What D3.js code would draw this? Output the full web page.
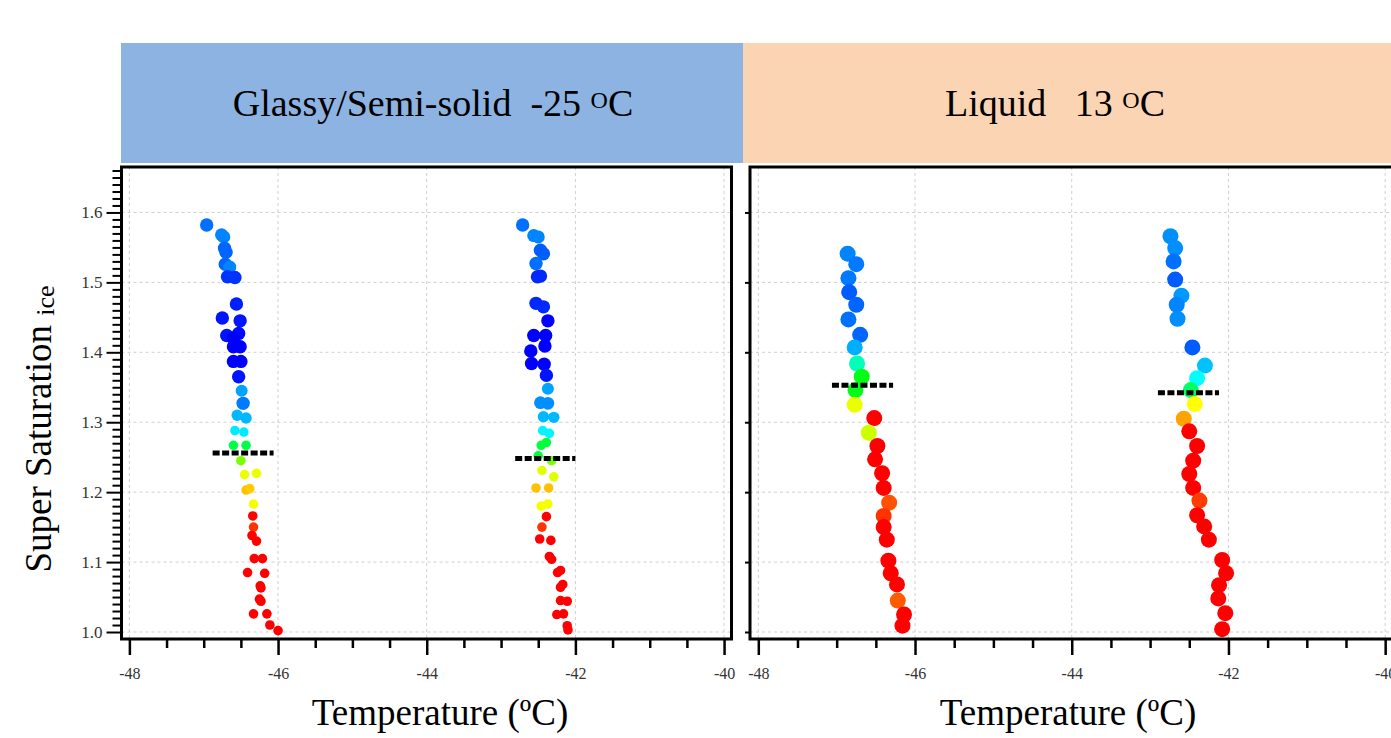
<!DOCTYPE html>
<html>
<head>
<meta charset="utf-8">
<script src="https://cdn.jsdelivr.net/npm/d3@7"></script>
<style>
  html, body { margin: 0; padding: 0; background: #fff; }
  svg { display: block; font-family: "Liberation Serif", "Times New Roman", serif; }
</style>
</head>
<body>
<svg id="chart" width="1391" height="738"></svg>
<script>
// ---- Glassy / semi-solid particles (-25 °C), run 1 ----
const glassyTemp1 = [-46.96, -46.76, -46.73, -46.72, -46.70, -46.71, -46.65, -46.68, -46.58, -46.56,
  -46.75, -46.51, -46.69, -46.53, -46.60, -46.51, -46.60, -46.60, -46.50, -46.53,
  -46.49, -46.47, -46.55, -46.43, -46.58, -46.46, -46.60, -46.43, -46.50, -46.45,
  -46.29, -46.43, -46.38, -46.33, -46.34, -46.33, -46.35, -46.29, -46.32, -46.21,
  -46.41, -46.18, -46.24, -46.23, -46.25, -46.23, -46.33, -46.15, -46.11, -46.00];
const glassySS1 = [1.582, 1.568, 1.565, 1.549, 1.543, 1.526, 1.522, 1.508, 1.507, 1.469,
  1.449, 1.445, 1.424, 1.427, 1.420, 1.408, 1.408, 1.387, 1.387, 1.365,
  1.345, 1.327, 1.310, 1.306, 1.288, 1.286, 1.267, 1.267, 1.245, 1.225,
  1.227, 1.203, 1.205, 1.183, 1.166, 1.150, 1.138, 1.130, 1.105, 1.105,
  1.085, 1.084, 1.066, 1.063, 1.047, 1.044, 1.026, 1.026, 1.010, 1.002];
const glassyFrozen1 = [0.11, 0.13, 0.13, 0.10, 0.10, 0.10, 0.13, 0.05, 0.05, 0.03,
  0.02, 0.02, 0.02, 0.01, 0.00, 0.00, 0.00, 0.00, 0.00, 0.02,
  0.16, 0.12, 0.18, 0.18, 0.23, 0.23, 0.43, 0.43, 0.62, 0.73,
  0.73, 0.81, 0.80, 0.74, 1.00, 0.95, 1.00, 1.00, 1.00, 1.00,
  1.00, 1.00, 1.00, 1.00, 1.00, 1.00, 1.00, 1.00, 1.00, 1.00];

// ---- Glassy / semi-solid particles (-25 °C), run 2 ----
const glassyTemp2 = [-42.71, -42.56, -42.50, -42.47, -42.43, -42.53, -42.47, -42.51, -42.53, -42.43,
  -42.37, -42.56, -42.40, -42.41, -42.60, -42.59, -42.42, -42.39, -42.37, -42.47,
  -42.37, -42.43, -42.29, -42.44, -42.35, -42.46, -42.39, -42.50, -42.32, -42.45,
  -42.29, -42.53, -42.36, -42.46, -42.37, -42.39, -42.45, -42.48, -42.33, -42.35,
  -42.32, -42.24, -42.20, -42.20, -42.17, -42.20, -42.11, -42.25, -42.16, -42.11, -42.10];
const glassySS2 = [1.582, 1.567, 1.565, 1.546, 1.541, 1.527, 1.509, 1.508, 1.470, 1.465,
  1.445, 1.424, 1.424, 1.409, 1.402, 1.384, 1.383, 1.367, 1.348, 1.328,
  1.327, 1.308, 1.307, 1.288, 1.284, 1.267, 1.271, 1.252, 1.245, 1.231,
  1.222, 1.206, 1.206, 1.180, 1.183, 1.165, 1.150, 1.133, 1.131, 1.108,
  1.104, 1.085, 1.088, 1.064, 1.068, 1.045, 1.044, 1.025, 1.026, 1.009, 1.003];
const glassyFrozen2 = [0.11, 0.13, 0.13, 0.09, 0.09, 0.11, 0.04, 0.04, 0.04, 0.04,
  0.00, 0.00, 0.00, 0.00, 0.00, 0.00, 0.00, 0.02, 0.16, 0.14,
  0.14, 0.18, 0.18, 0.24, 0.24, 0.44, 0.44, 0.45, 0.62, 0.72,
  0.72, 0.81, 0.81, 0.74, 0.74, 1.00, 0.95, 1.00, 1.00, 1.00,
  1.00, 1.00, 1.00, 1.00, 1.00, 1.00, 1.00, 1.00, 1.00, 1.00, 1.00];

// ---- Liquid particles (13 °C), run 1 ----
const liquidTemp1 = [-46.86, -46.75, -46.85, -46.84, -46.75, -46.85, -46.70, -46.77, -46.74, -46.68,
  -46.76, -46.77, -46.52, -46.59, -46.48, -46.51, -46.42, -46.40, -46.33, -46.40,
  -46.40, -46.36, -46.34, -46.31, -46.23, -46.22, -46.14, -46.16];
const liquidSS1 = [1.541, 1.526, 1.506, 1.486, 1.468, 1.447, 1.425, 1.407, 1.384, 1.365,
  1.346, 1.325, 1.306, 1.285, 1.266, 1.247, 1.227, 1.206, 1.185, 1.166,
  1.150, 1.132, 1.102, 1.084, 1.068, 1.045, 1.025, 1.009];
const liquidFrozen1 = [0.13, 0.12, 0.12, 0.09, 0.10, 0.11, 0.10, 0.17, 0.32, 0.48,
  0.48, 0.73, 1.00, 0.70, 1.00, 1.00, 1.00, 1.00, 0.92, 0.95,
  1.00, 1.00, 1.00, 1.00, 1.00, 0.91, 1.00, 1.00];

// ---- Liquid particles (13 °C), run 2 ----
const liquidTemp2 = [-42.74, -42.68, -42.70, -42.68, -42.60, -42.66, -42.65, -42.46, -42.30, -42.40,
  -42.48, -42.43, -42.57, -42.50, -42.40, -42.45, -42.50, -42.45, -42.37, -42.40,
  -42.31, -42.25, -42.08, -42.03, -42.12, -42.13, -42.04, -42.08];
const liquidSS2 = [1.566, 1.549, 1.530, 1.504, 1.481, 1.468, 1.448, 1.407, 1.381, 1.363,
  1.346, 1.326, 1.305, 1.287, 1.266, 1.245, 1.226, 1.206, 1.188, 1.167,
  1.151, 1.132, 1.103, 1.084, 1.067, 1.048, 1.027, 1.004];
const liquidFrozen2 = [0.14, 0.14, 0.11, 0.09, 0.15, 0.13, 0.14, 0.09, 0.19, 0.25,
  0.40, 0.75, 0.84, 1.00, 1.00, 1.00, 1.00, 1.00, 0.94, 1.00,
  1.00, 1.00, 1.00, 1.00, 1.00, 1.00, 1.00, 1.00];

// ---- Ice-onset thresholds (one per run) ----
const onsetSS = [1.256, 1.248, 1.353, 1.342];
const onsetFrom = [-46.88, -42.81, -47.06, -42.90];
const onsetTo = [-46.06, -42.00, -46.28, -42.12];

// ---- Axis ticks and labels ----
const tempTicks = [-48, -46, -44, -42, -40];
const ssTicks = [1.0, 1.1, 1.2, 1.3, 1.4, 1.5, 1.6];
const panelTitles = ["Glassy/Semi-solid  -25 ", "Liquid   13 "];
const xTitle = "Temperature (\u00baC)";

// ---------------------------------------------------------------
const svg = d3.select("#chart");

const xDomain = [-48.106, -39.9];
const yDomain = [0.99, 1.665];
const frameTop = 167, frameBottom = 639;

const y = d3.scaleLinear().domain(yDomain).range([frameBottom, frameTop]);

// rainbow colour map for the frozen fraction
const colour = d3.scaleLinear()
  .domain([0, 0.25, 0.5, 0.75, 1])
  .range(["#0000ff", "#00ffff", "#00ff00", "#ffff00", "#ff0000"])
  .interpolate(d3.interpolateRgb);

const glassyRadius = d3.scaleLinear().domain([0.12, 0.23]).range([6.7, 4.8]).clamp(true);

const runsOf = (t, s, f) => d3.zip(t, s, f).map(([temp, ss, frozen]) => ({ temp, ss, frozen }));

const panels = [
  {
    left: 121.5, right: 731.5, yLabels: true,
    runs: [runsOf(glassyTemp1, glassySS1, glassyFrozen1), runsOf(glassyTemp2, glassySS2, glassyFrozen2)],
    onsets: [0, 1],
    radius: d => glassyRadius(d.frozen),
    head: { x0: 121, x1: 743, fill: "#8db3e2", title: panelTitles[0], cx: 433 },
    xTitleX: 440
  },
  {
    left: 750, right: 1393, yLabels: false,
    runs: [runsOf(liquidTemp1, liquidSS1, liquidFrozen1), runsOf(liquidTemp2, liquidSS2, liquidFrozen2)],
    onsets: [2, 3],
    radius: () => 8,
    head: { x0: 743, x1: 1391, fill: "#fbd4b4", title: panelTitles[1], cx: 1055 },
    xTitleX: 1068
  }
];

panels.forEach(p => {
  const x = d3.scaleLinear().domain(xDomain).range([p.left, p.right]);
  const g = svg.append("g");

  // header band
  g.append("rect")
    .attr("x", p.head.x0).attr("y", 43)
    .attr("width", p.head.x1 - p.head.x0).attr("height", 120)
    .attr("fill", p.head.fill);
  const ht = g.append("text")
    .attr("x", p.head.cx).attr("y", 116)
    .attr("text-anchor", "middle")
    .style("white-space", "pre")
    .attr("font-size", 38).attr("fill", "#000");
  ht.append("tspan").text(p.head.title);
  ht.append("tspan").attr("font-size", 24).attr("dy", -8).text("O");
  ht.append("tspan").attr("dy", 8).text("C");

  // grid
  g.append("g").selectAll("line").data(tempTicks).join("line")
    .attr("x1", d => x(d)).attr("x2", d => x(d))
    .attr("y1", frameTop).attr("y2", frameBottom)
    .attr("stroke", "#cfcfcf").attr("stroke-width", 1).attr("stroke-dasharray", "3,3");
  g.append("g").selectAll("line").data(ssTicks).join("line")
    .attr("x1", p.left).attr("x2", p.right)
    .attr("y1", d => y(d)).attr("y2", d => y(d))
    .attr("stroke", "#cfcfcf").attr("stroke-width", 1).attr("stroke-dasharray", "3,3");

  // points
  p.runs.forEach(run => {
    g.append("g").selectAll("circle").data(run).join("circle")
      .attr("cx", d => x(d.temp)).attr("cy", d => y(d.ss))
      .attr("r", p.radius)
      .attr("fill", d => colour(d.frozen));
  });

  // onset markers
  g.append("g").selectAll("line").data(p.onsets).join("line")
    .attr("x1", i => x(onsetFrom[i])).attr("x2", i => x(onsetTo[i]))
    .attr("y1", i => y(onsetSS[i])).attr("y2", i => y(onsetSS[i]))
    .attr("stroke", "#000").attr("stroke-width", 5).attr("stroke-dasharray", "7,2.5");

  // x axis: minor and major ticks
  const minorX = d3.range(-48, -39.99, 0.5).filter(v => v % 2 !== 0);
  const axMinor = g.append("g").attr("transform", `translate(0,${frameBottom})`)
    .call(d3.axisBottom(x).tickValues(minorX).tickSize(9).tickFormat(""));
  const axMajor = g.append("g").attr("transform", `translate(0,${frameBottom})`)
    .call(d3.axisBottom(x).tickValues(tempTicks).tickSize(16).tickPadding(13).tickFormat(d => String(d)));
  [axMinor, axMajor].forEach(a => {
    a.select(".domain").remove();
    a.selectAll(".tick line").attr("stroke", "#000").attr("stroke-width", 2.5);
  });
  axMajor.selectAll(".tick text")
    .attr("font-family", "Liberation Serif, serif").attr("font-size", 16).attr("fill", "#333");

  // y axis
  if (p.yLabels) {
    const minorY = d3.range(100, 167).map(v => v / 100).filter(v => Math.round(v * 100) % 10 !== 0);
    const ayMinor = g.append("g").attr("transform", `translate(${p.left},0)`)
      .call(d3.axisLeft(y).tickValues(minorY).tickSize(9).tickFormat(""));
    const ayMajor = g.append("g").attr("transform", `translate(${p.left},0)`)
      .call(d3.axisLeft(y).tickValues(ssTicks).tickSize(15).tickPadding(4).tickFormat(d3.format(".1f")));
    [ayMinor, ayMajor].forEach(a => {
      a.select(".domain").remove();
      a.selectAll(".tick line").attr("stroke", "#000").attr("stroke-width", 2);
    });
    ayMajor.selectAll(".tick text")
      .attr("font-family", "Liberation Serif, serif").attr("font-size", 17).attr("fill", "#333");
  } else {
    const ay = g.append("g").attr("transform", `translate(${p.left},0)`)
      .call(d3.axisLeft(y).tickValues(ssTicks).tickSize(5).tickFormat(""));
    ay.select(".domain").remove();
    ay.selectAll(".tick line").attr("stroke", "#000").attr("stroke-width", 2);
  }

  // frame
  g.append("rect")
    .attr("x", p.left).attr("y", frameTop)
    .attr("width", p.right - p.left).attr("height", frameBottom - frameTop)
    .attr("fill", "none").attr("stroke", "#000").attr("stroke-width", 3);

  // x title
  g.append("text")
    .attr("x", p.xTitleX).attr("y", 725)
    .attr("text-anchor", "middle")
    .attr("font-size", 37).attr("fill", "#000")
    .text(xTitle);
});

// y title
const yt = svg.append("text")
  .attr("transform", "translate(51,429) rotate(-90)")
  .attr("text-anchor", "middle")
  .style("white-space", "pre")
  .attr("font-size", 37).attr("fill", "#000");
yt.append("tspan").text("Super Saturation ");
yt.append("tspan").attr("font-size", 26).attr("dy", 3).text("ice");
</script>
</body>
</html>
